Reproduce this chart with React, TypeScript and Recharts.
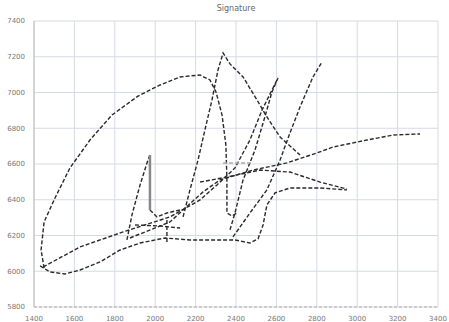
import React from "react"
import { LineChart, Line, XAxis, YAxis, CartesianGrid } from "recharts"

type Pt = { x: number; y: number }

// pen strokes (x, y in tablet units)
const loopStroke: Pt[] = [
  { x: 1450, y: 6018 }, { x: 1435, y: 6119 }, { x: 1450, y: 6276 }, { x: 1504, y: 6410 },
  { x: 1578, y: 6578 }, { x: 1677, y: 6734 }, { x: 1786, y: 6874 }, { x: 1915, y: 6980 },
  { x: 2024, y: 7042 }, { x: 2123, y: 7087 }, { x: 2222, y: 7098 }, { x: 2271, y: 7070 },
  { x: 2301, y: 7003 }, { x: 2331, y: 6874 }, { x: 2350, y: 6706 }, { x: 2355, y: 6511 },
  { x: 2355, y: 6326 }, { x: 2380, y: 6309 }, { x: 2405, y: 6326 },
]
const baseStroke: Pt[] = [
  { x: 1430, y: 6030 }, { x: 1479, y: 5996 }, { x: 1553, y: 5985 }, { x: 1628, y: 6007 },
  { x: 1727, y: 6052 }, { x: 1826, y: 6119 }, { x: 1925, y: 6158 }, { x: 2048, y: 6186 },
  { x: 2172, y: 6175 }, { x: 2296, y: 6175 }, { x: 2395, y: 6175 }, { x: 2469, y: 6158 },
  { x: 2509, y: 6181 }, { x: 2534, y: 6259 }, { x: 2553, y: 6371 }, { x: 2593, y: 6438 },
  { x: 2667, y: 6466 }, { x: 2816, y: 6466 }, { x: 2949, y: 6455 },
]
const riseStroke: Pt[] = [
  { x: 1445, y: 6024 }, { x: 1628, y: 6136 }, { x: 1841, y: 6220 }, { x: 2073, y: 6304 },
  { x: 2222, y: 6399 }, { x: 2306, y: 6483 }, { x: 2395, y: 6578 }, { x: 2469, y: 6734 },
  { x: 2529, y: 6902 }, { x: 2578, y: 7014 }, { x: 2608, y: 7081 }, { x: 2578, y: 7003 },
  { x: 2543, y: 6863 }, { x: 2494, y: 6678 }, { x: 2435, y: 6511 }, { x: 2395, y: 6326 },
  { x: 2370, y: 6231 },
]
const peakStroke: Pt[] = [
  { x: 2138, y: 6304 }, { x: 2172, y: 6455 }, { x: 2212, y: 6622 }, { x: 2246, y: 6790 },
  { x: 2281, y: 6958 }, { x: 2311, y: 7126 }, { x: 2336, y: 7221 }, { x: 2370, y: 7160 },
  { x: 2435, y: 7087 }, { x: 2504, y: 6958 }, { x: 2553, y: 6863 }, { x: 2618, y: 6751 },
  { x: 2717, y: 6650 },
]
const tallStroke: Pt[] = [
  { x: 2385, y: 6192 }, { x: 2469, y: 6326 }, { x: 2553, y: 6455 }, { x: 2618, y: 6622 },
  { x: 2667, y: 6773 }, { x: 2717, y: 6919 }, { x: 2781, y: 7087 }, { x: 2826, y: 7171 },
]
const longStroke: Pt[] = [
  { x: 1875, y: 6186 }, { x: 2073, y: 6276 }, { x: 2237, y: 6444 }, { x: 2321, y: 6511 },
  { x: 2484, y: 6566 }, { x: 2652, y: 6606 }, { x: 2801, y: 6662 }, { x: 2880, y: 6695 },
  { x: 3048, y: 6734 }, { x: 3177, y: 6762 }, { x: 3311, y: 6768 },
]
const markStroke: Pt[] = [
  { x: 1860, y: 6175 }, { x: 1885, y: 6315 }, { x: 1925, y: 6483 }, { x: 1964, y: 6622 },
  { x: 1974, y: 6650 },
]
const barStroke: Pt[] = [
  { x: 1974, y: 6650 }, { x: 1974, y: 6343 },
]
const hookStroke: Pt[] = [
  { x: 1974, y: 6343 }, { x: 2009, y: 6304 }, { x: 2058, y: 6326 }, { x: 2123, y: 6343 },
]
const dashStroke: Pt[] = [
  { x: 1900, y: 6259 }, { x: 2024, y: 6253 }, { x: 2123, y: 6242 },
]
const tickStroke: Pt[] = [
  { x: 2058, y: 6287 }, { x: 2058, y: 6164 },
]
const fallStroke: Pt[] = [
  { x: 2222, y: 6499 }, { x: 2355, y: 6527 }, { x: 2519, y: 6566 }, { x: 2667, y: 6555 },
  { x: 2816, y: 6499 }, { x: 2949, y: 6460 },
]
const crossStroke: Pt[] = [
  { x: 2336, y: 6606 }, { x: 2484, y: 6606 },
]

const xTicks = [1400, 1600, 1800, 2000, 2200, 2400, 2600, 2800, 3000, 3200, 3400]
const yTicks = [5800, 6000, 6200, 6400, 6600, 6800, 7000, 7200, 7400]

const inkStrokes = [
  loopStroke, baseStroke, riseStroke, peakStroke, tallStroke, longStroke,
  markStroke, hookStroke, dashStroke, tickStroke, fallStroke,
]

const tickStyle = { fontSize: 7, fill: "#777", fontFamily: "DejaVu Sans" }

export default function App() {
  return (
    <div style={{ position: "absolute", left: 0, top: 0, width: 449, height: 322, background: "#fff" }}>
      <div
        style={{
          position: "absolute", left: 0, width: 472, top: 4, textAlign: "center",
          fontSize: 8, color: "#666", fontFamily: "DejaVu Sans",
        }}
      >
        Signature
      </div>
      <LineChart width={449} height={322} margin={{ top: 21, right: 11, left: 0, bottom: 0 }}>
        <CartesianGrid stroke="#d6dae6" strokeWidth={1} />
        <XAxis
          type="number"
          dataKey="x"
          domain={[1400, 3400]}
          ticks={xTicks}
          height={15}
          tick={tickStyle}
          tickLine={false}
          axisLine={{ stroke: "#aaa", strokeDasharray: "3 2" }}
          tickMargin={3}
          interval={0}
        />
        <YAxis
          type="number"
          dataKey="y"
          domain={[5800, 7400]}
          ticks={yTicks}
          width={34}
          tick={tickStyle}
          tickLine={false}
          axisLine={{ stroke: "#bbb" }}
          tickMargin={3}
          interval={0}
        />
        {inkStrokes.map((s, i) => (
          <Line
            key={i}
            data={s}
            dataKey="y"
            type="linear"
            stroke="#2a2a2a"
            strokeWidth={1.4}
            strokeDasharray="4 2"
            dot={false}
            isAnimationActive={false}
          />
        ))}
        <Line data={barStroke} dataKey="y" type="linear" stroke="#888" strokeWidth={2.5}
          dot={false} isAnimationActive={false} />
        <Line data={crossStroke} dataKey="y" type="linear" stroke="#aaa" strokeWidth={1.6}
          strokeDasharray="4 2" dot={false} isAnimationActive={false} />
      </LineChart>
    </div>
  )
}
